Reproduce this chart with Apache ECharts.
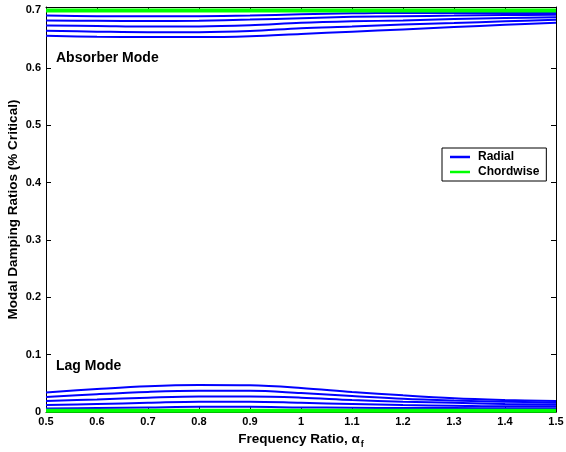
<!DOCTYPE html>
<html>
<head>
<meta charset="utf-8">
<script src="https://cdn.jsdelivr.net/npm/echarts@6/dist/echarts.min.js"></script>
<style>
  html, body { margin: 0; padding: 0; background: #fff; }
  #chart { width: 566px; height: 452px; }
</style>
</head>
<body>
<div id="chart"></div>
<script>
// Frequency ratio samples (x axis)
const freqRatio = [0.5, 0.6, 0.7, 0.8, 0.9, 1.0, 1.1, 1.2, 1.3, 1.4, 1.5];

// Radial damping, absorber mode branch (one array per configuration)
const radialAbsorber1 = [0.691, 0.690, 0.690, 0.690, 0.691, 0.6935, 0.695, 0.696, 0.6955, 0.6955, 0.6955];
const radialAbsorber2 = [0.6826, 0.682, 0.6815, 0.682, 0.684, 0.6866, 0.689, 0.690, 0.691, 0.692, 0.6925];
const radialAbsorber3 = [0.6738, 0.673, 0.672, 0.672, 0.674, 0.6784, 0.681, 0.6826, 0.685, 0.687, 0.688];
const radialAbsorber4 = [0.6644, 0.663, 0.662, 0.662, 0.664, 0.669, 0.672, 0.6756, 0.678, 0.681, 0.6836];
const radialAbsorber5 = [0.6557, 0.654, 0.6535, 0.6535, 0.655, 0.659, 0.663, 0.6669, 0.671, 0.675, 0.6784];

// Radial damping, lag mode branch
const radialLag1 = [0.034, 0.040, 0.045, 0.047, 0.0465, 0.042, 0.035, 0.029, 0.024, 0.021, 0.019];
const radialLag2 = [0.026, 0.031, 0.035, 0.037, 0.037, 0.033, 0.028, 0.023, 0.020, 0.018, 0.016];
const radialLag3 = [0.019, 0.022, 0.025, 0.027, 0.027, 0.025, 0.021, 0.018, 0.016, 0.014, 0.013];
const radialLag4 = [0.012, 0.014, 0.016, 0.018, 0.018, 0.016, 0.014, 0.012, 0.011, 0.010, 0.010];
const radialLag5 = [0.006, 0.007, 0.008, 0.009, 0.009, 0.008, 0.0075, 0.007, 0.007, 0.0065, 0.0065];

// Chordwise damping (absorber and lag branches)
const chordAbsorber = [0.700, 0.700, 0.700, 0.700, 0.700, 0.700, 0.700, 0.700, 0.700, 0.700, 0.700];
const chordLag = [0.002, 0.002, 0.002, 0.002, 0.002, 0.002, 0.002, 0.002, 0.002, 0.002, 0.002];

// Axis tick values
const xTicks = [0.5, 0.6, 0.7, 0.8, 0.9, 1.0, 1.1, 1.2, 1.3, 1.4, 1.5];
const yTicks = [0, 0.1, 0.2, 0.3, 0.4, 0.5, 0.6, 0.7];

const BLUE = '#0000ff';
const GREEN = '#00ff00';
const FONT = 'Liberation Sans';

function pairs(ys) { return freqRatio.map((x, i) => [x, ys[i]]); }

function lineSeries(name, ys, color, width) {
  return {
    name: name,
    type: 'line',
    data: pairs(ys),
    xAxisIndex: 0,
    yAxisIndex: 0,
    symbol: 'none',
    showSymbol: false,
    smooth: 0.35,
    lineStyle: { color: color, width: width },
    itemStyle: { color: color },
    emphasis: { disabled: true },
    animation: false
  };
}

const radialSets = [radialAbsorber1, radialAbsorber2, radialAbsorber3, radialAbsorber4, radialAbsorber5,
                    radialLag1, radialLag2, radialLag3, radialLag4, radialLag5];
const chordSets = [chordAbsorber, chordLag];

const series = [];
radialSets.forEach(s => series.push(lineSeries('Radial', s, BLUE, 2)));
chordSets.forEach(s => series.push(lineSeries('Chordwise', s, GREEN, 4)));

const tickFmt = v => {
  const r = Math.round(v * 10) / 10;
  return Math.abs(r - v) < 1e-6 ? String(r) : '';
};

const labelStyle = { color: '#000', fontFamily: FONT, fontWeight: 'bold', fontSize: 11 };
const frameLine = { show: true, onZero: false, lineStyle: { color: '#000', width: 1 } };
const innerTick = { show: true, inside: true, length: 5, lineStyle: { color: '#000', width: 1 } };

const option = {
  backgroundColor: '#fff',
  animation: false,
  grid: { left: 46, right: 10, top: 7, bottom: 40, containLabel: false, outerBoundsMode: 'none' },
  legend: {
    data: [
      { name: 'Radial', icon: 'rect', itemStyle: { color: BLUE } },
      { name: 'Chordwise', icon: 'rect', itemStyle: { color: GREEN } }
    ],
    orient: 'vertical',
    left: 442,
    top: 148,
    itemWidth: 20,
    itemHeight: 2.5,
    itemGap: 3,
    padding: [3, 7, 3, 8],
    borderColor: '#000',
    borderWidth: 1,
    backgroundColor: '#fff',
    textStyle: { color: '#000', fontFamily: FONT, fontWeight: 'bold', fontSize: 12, padding: [0, 0, 0, 3], lineHeight: 11 }
  },
  xAxis: [
    {
      type: 'value', position: 'bottom',
      min: xTicks[0], max: xTicks[xTicks.length - 1], interval: 0.1,
      axisLine: frameLine, axisTick: innerTick, splitLine: { show: false },
      axisLabel: Object.assign({ margin: 4, formatter: tickFmt }, labelStyle),
      name: '{n|Frequency Ratio, α}{s|f}',
      nameLocation: 'middle',
      nameGap: 18,
      nameTextStyle: {
        rich: {
          n: { color: '#000', fontFamily: FONT, fontWeight: 'bold', fontSize: 13.5, verticalAlign: 'top', lineHeight: 15 },
          s: { color: '#000', fontFamily: FONT, fontWeight: 'bold', fontSize: 9, verticalAlign: 'top', lineHeight: 10, padding: [8, 0, 0, 1] }
        }
      }
    },
    {
      type: 'value', position: 'top',
      min: xTicks[0], max: xTicks[xTicks.length - 1], interval: 0.1,
      axisLine: frameLine, axisTick: innerTick, splitLine: { show: false },
      axisLabel: { show: false }
    }
  ],
  yAxis: [
    {
      type: 'value', position: 'left',
      min: yTicks[0], max: 0.706, interval: 0.1,
      axisLine: frameLine, axisTick: innerTick, splitLine: { show: false },
      axisLabel: Object.assign({ margin: 5, formatter: tickFmt }, labelStyle),
      name: 'Modal Damping Ratios (% Critical)',
      nameLocation: 'middle',
      nameGap: 26,
      nameMoveOverlap: false,
      nameTextStyle: { color: '#000', fontFamily: FONT, fontWeight: 'bold', fontSize: 13.5 }
    },
    {
      type: 'value', position: 'right',
      min: yTicks[0], max: 0.706, interval: 0.1,
      axisLine: frameLine, axisTick: innerTick, splitLine: { show: false },
      axisLabel: { show: false }
    }
  ],
  graphic: [
    { type: 'text', left: 56, top: 51, style: { text: 'Absorber Mode', fill: '#000', font: 'bold 14px "Liberation Sans"' } },
    { type: 'text', left: 56, top: 359, style: { text: 'Lag Mode', fill: '#000', font: 'bold 14px "Liberation Sans"' } }
  ],
  series: series
};

const chart = echarts.init(document.getElementById('chart'), null, { renderer: 'canvas' });
chart.setOption(option);
</script>
</body>
</html>
